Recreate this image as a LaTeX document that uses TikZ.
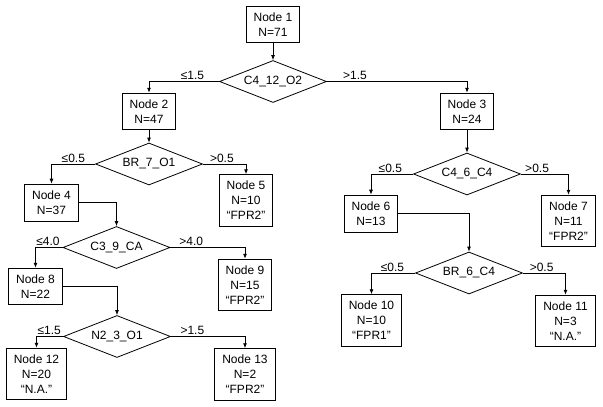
\documentclass[tikz,border=0pt]{standalone}
\usepackage{fontspec}
\setmainfont{Liberation Sans}
\usetikzlibrary{shapes.geometric,arrows.meta}

\begin{document}
\begin{tikzpicture}[x=1pt, y=-1pt, >={Latex[length=5pt,width=4pt]},
    caja/.style={draw, line width=0.8pt, align=center, inner xsep=7.5pt, inner ysep=6.5pt, font=\fontsize{12}{15}\selectfont},
    rombo/.style={draw, diamond, line width=0.8pt, aspect=2.5, inner sep=0pt, minimum width=107pt, minimum height=42pt, font=\fontsize{12}{15}\selectfont},
    rama/.style={above, inner sep=1.2pt, font=\fontsize{12}{15}\selectfont}]
  \useasboundingbox (0,0) rectangle (603,407);

  % Nodos
  \node[caja] (n1) at (273,24.5) {Node 1\\N=71};
  \node[caja] (n2) at (149,111.5) {Node 2\\N=47};
  \node[caja] (n3) at (467,111.5) {Node 3\\N=24};
  \node[caja] (n4) at (51.5,202.5) {Node 4\\N=37};
  \node[caja] (n5) at (246,200.5) {Node 5\\N=10\\“FPR2”};
  \node[caja] (n6) at (371,213.5) {Node 6\\N=13};
  \node[caja] (n7) at (568.5,221) {Node 7\\N=11\\“FPR2”};
  \node[caja] (n8) at (35.5,286.5) {Node 8\\N=22};
  \node[caja] (n9) at (245,285) {Node 9\\N=15\\“FPR2”};
  \node[caja] (n10) at (371.5,320.5) {Node 10\\N=10\\“FPR1”};
  \node[caja] (n11) at (565.5,321) {Node 11\\N=3\\“N.A.”};
  \node[caja] (n12) at (36.5,374) {Node 12\\N=20\\“N.A.”};
  \node[caja] (n13) at (245,374.5) {Node 13\\N=2\\“FPR2”};

  % Decisiones
  \node[rombo] (c1) at (273,81.5) {C4\_12\_O2};
  \node[rombo] (c2) at (149,164) {BR\_7\_O1};
  \node[rombo] (c3) at (467,174) {C4\_6\_C4};
  \node[rombo] (c4) at (116.5,247.5) {C3\_9\_CA};
  \node[rombo] (c5) at (469,273) {BR\_6\_C4};
  \node[rombo] (c6) at (117,336.5) {N2\_3\_O1};

  % Conexiones
  \draw[line width=0.8pt, ->] (n1) -- (c1);
  \draw[line width=0.8pt, ->] (c1.west) -| node[rama, pos=.19] {≤1.5} (n2);
  \draw[line width=0.8pt, ->] (c1.east) -| node[rama, pos=.1] {>1.5} (n3);

  \draw[line width=0.8pt, ->] (n2) -- (c2);
  \draw[line width=0.8pt, ->] (c2.west) -| node[rama, pos=.25] {≤0.5} (n4);
  \draw[line width=0.8pt, ->] (c2.east) -| node[rama, pos=.22] {>0.5} (n5);

  \draw[line width=0.8pt, ->] (n3) -- (c3);
  \draw[line width=0.8pt, ->] (c3.west) -| node[rama, pos=.27] {≤0.5} (n6);
  \draw[line width=0.8pt, ->] (c3.east) -| node[rama, pos=.17] {>0.5} (n7);

  \draw[line width=0.8pt, ->] (n4.east) -| (c4);
  \draw[line width=0.8pt, ->] (c4.west) -| node[rama, pos=.27] {≤4.0} (n8);
  \draw[line width=0.8pt, ->] (c4.east) -| node[rama, pos=.14] {>4.0} (n9);

  \draw[line width=0.8pt, ->] (n6.east) -| (c5);
  \draw[line width=0.8pt, ->] (c5.west) -| node[rama, pos=.26] {≤0.5} (n10);
  \draw[line width=0.8pt, ->] (c5.east) -| node[rama, pos=.22] {>0.5} (n11);

  \draw[line width=0.8pt, ->] (n8.east) -| (c6);
  \draw[line width=0.8pt, ->] (c6.west) -| node[rama, pos=.26] {≤1.5} (n12);
  \draw[line width=0.8pt, ->] (c6.east) -| node[rama, pos=.145] {>1.5} (n13);
\end{tikzpicture}
\end{document}
